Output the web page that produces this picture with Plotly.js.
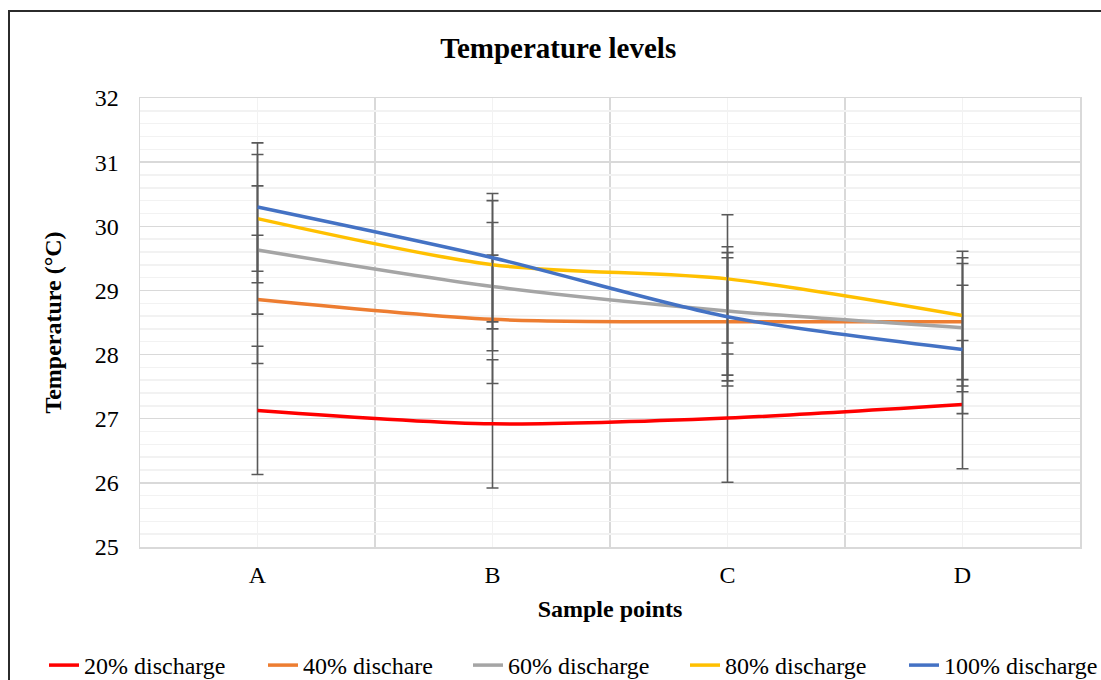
<!DOCTYPE html>
<html>
<head>
<meta charset="utf-8">
<script src="https://cdn.plot.ly/plotly-3.0.1.min.js"></script>
<style>
  html, body { margin: 0; padding: 0; background: #fff; overflow: hidden; }
  #chart { width: 1101px; height: 680px; position: absolute; left: 0; top: 0; }
  #frame { position: absolute; left: 8px; top: 10px; width: 2000px; height: 2000px;
           border-left: 2px solid #2b2b2b; border-top: 2px solid #2b2b2b; pointer-events: none; }
</style>
</head>
<body>
<div id="chart"></div>
<div id="frame"></div>
<script>
// ---- data ----
const categories = ['A', 'B', 'C', 'D'];
const seriesNames = ['20% discharge', '40% dischare', '60% discharge', '80% discharge', '100% discharge'];
const discharge20 = [27.13, 26.92, 27.01, 27.22];
const discharge40 = [28.86, 28.55, 28.51, 28.51];
const discharge60 = [29.63, 29.06, 28.68, 28.42];
const discharge80 = [30.12, 29.40, 29.18, 28.61];
const discharge100 = [30.30, 29.51, 28.59, 28.08];
const errorValue = 1;
const yTicks = [25, 26, 27, 28, 29, 30, 31, 32];

const seriesValues = [discharge20, discharge40, discharge60, discharge80, discharge100];
const colors = ['#FF0000', '#ED7D31', '#A5A5A5', '#FFC000', '#4472C4'];
const legendIds = ['legend', 'legend2', 'legend3', 'legend4', 'legend5'];
const legendLeft = [44, 263, 468, 685, 904];   // pixel x of each legend entry
const xIdx = categories.map((c, i) => i);

const traces = seriesValues.map((vals, k) => ({
  type: 'scatter',
  mode: 'lines',
  name: seriesNames[k],
  legend: legendIds[k],
  x: xIdx,
  y: vals,
  line: { color: colors[k], width: 3.5, shape: 'spline', smoothing: 0.8 },
  error_y: { type: 'constant', value: errorValue, visible: true, color: '#595959', thickness: 1.6, width: 6 }
}));

const font = "'Liberation Serif', 'Times New Roman', serif";

const layout = {
  width: 1101,
  height: 680,
  paper_bgcolor: '#ffffff',
  plot_bgcolor: '#ffffff',
  margin: { l: 140, r: 21, t: 98, b: 133, autoexpand: false },
  font: { family: font, size: 24, color: '#000000' },
  title: {
    text: '<b>Temperature levels</b>',
    font: { family: font, size: 29, color: '#000000' },
    xref: 'container', x: 0.507, xanchor: 'center',
    yref: 'container', y: 1 - 48 / 680, yanchor: 'middle'
  },
  xaxis: {
    range: [-0.5, 3.5],
    tickvals: xIdx,
    ticktext: categories,
    showgrid: true,
    gridcolor: '#f2f2f2',
    gridwidth: 1.5,
    minor: { tick0: 0.5, dtick: 1, showgrid: true, gridcolor: '#d9d9d9', gridwidth: 1.5 },
    zeroline: false,
    showline: true, linecolor: '#d9d9d9', linewidth: 1.5, mirror: true,
    ticks: '',
    ticklabelstandoff: 6,
    tickfont: { family: font, size: 24, color: '#000' },
    title: { text: '<b>Sample points</b>', font: { family: font, size: 24, color: '#000' }, standoff: 13 }
  },
  yaxis: {
    range: [25, 32],
    tickvals: yTicks,
    showgrid: true,
    gridcolor: '#d9d9d9',
    gridwidth: 1.5,
    minor: { dtick: 0.2, showgrid: true, gridcolor: '#f2f2f2', gridwidth: 1.5 },
    zeroline: false,
    showline: true, linecolor: '#d9d9d9', linewidth: 1.5, mirror: true,
    ticks: '',
    ticklabelstandoff: 15,
    tickfont: { family: font, size: 24, color: '#000' },
    title: { text: '<b>Temperature (°C)</b>', font: { family: font, size: 24, color: '#000' }, standoff: 26 }
  },
  showlegend: true
};

legendIds.forEach((id, k) => {
  layout[id] = {
    orientation: 'h',
    xref: 'container', x: legendLeft[k] / 1101, xanchor: 'left',
    yref: 'container', y: 1 - 643 / 680, yanchor: 'top',
    font: { family: font, size: 24, color: '#000' },
    bgcolor: 'rgba(0,0,0,0)'
  };
});

Plotly.newPlot('chart', traces, layout, { staticPlot: true, displayModeBar: false });
</script>
</body>
</html>
